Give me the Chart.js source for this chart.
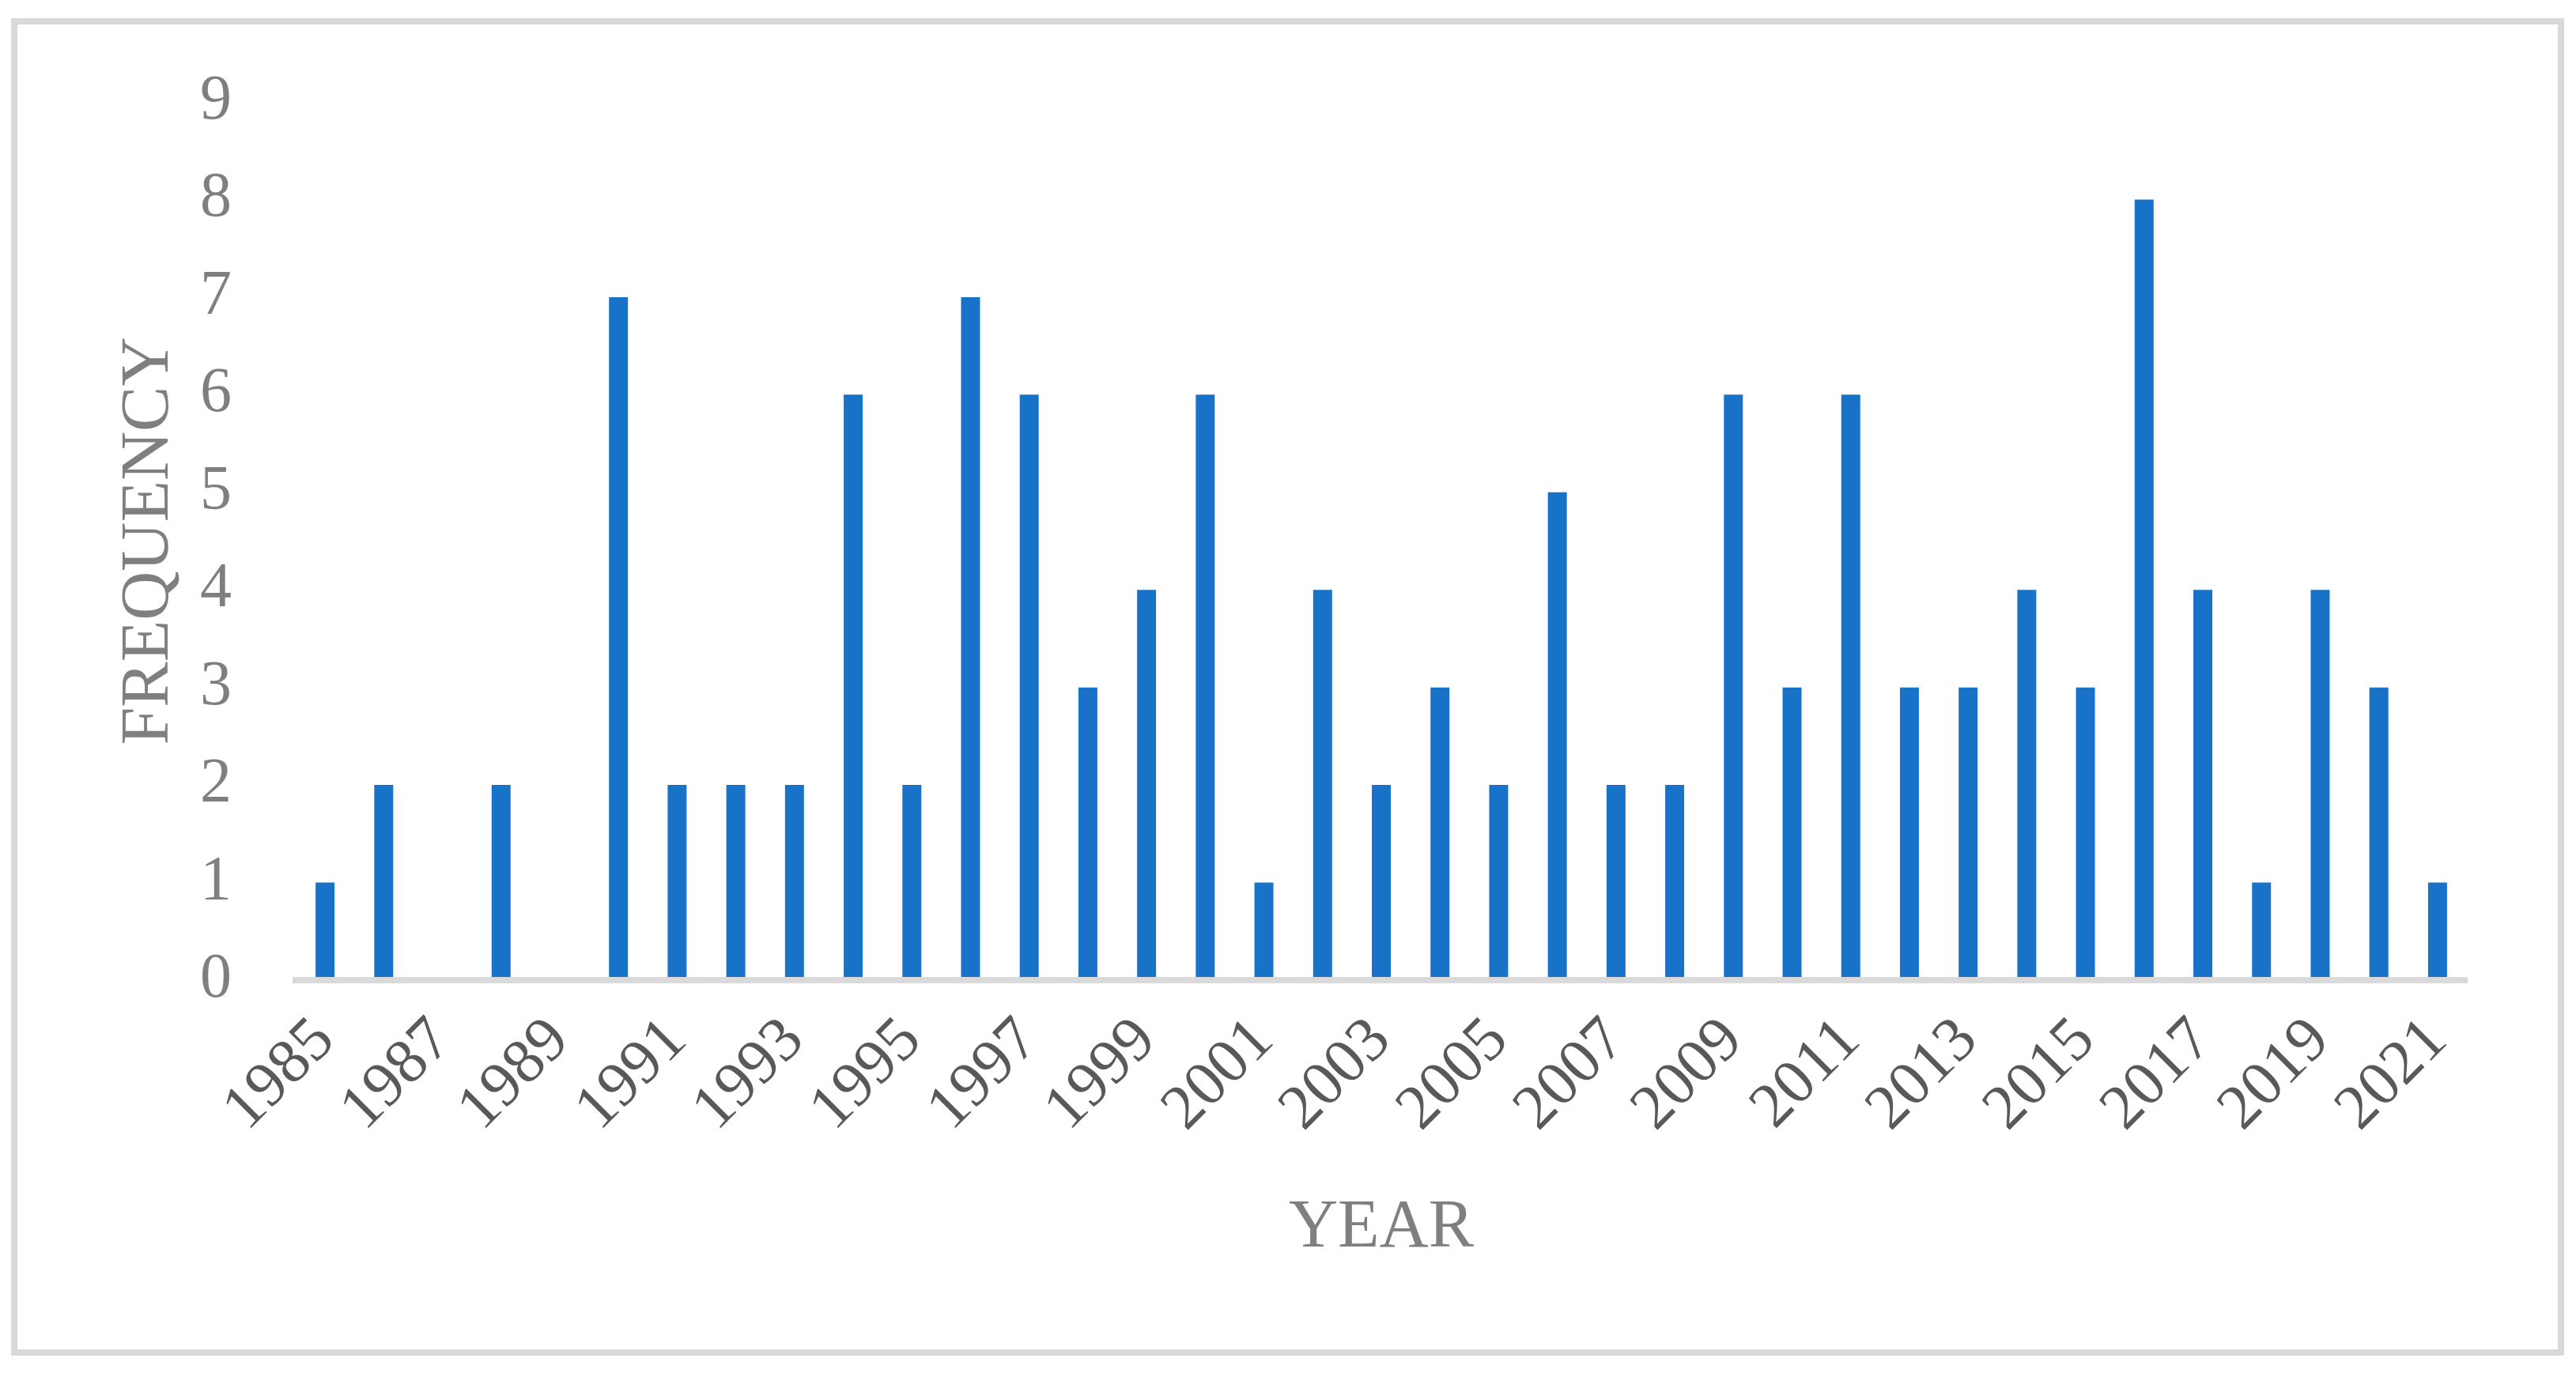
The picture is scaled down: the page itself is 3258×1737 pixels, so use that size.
<!DOCTYPE html>
<html>
<head>
<meta charset="utf-8">
<script src="https://cdn.jsdelivr.net/npm/chart.js@4/dist/chart.umd.min.js"></script>
<style>
  html, body { margin: 0; padding: 0; background: #ffffff; }
  #wrap { position: relative; width: 3258px; height: 1737px; }
</style>
</head>
<body>
<div id="wrap"><canvas id="c" width="3258" height="1737"></canvas></div>
<script>
const years = ["1985","1986","1987","1988","1989","1990","1991","1992","1993","1994","1995","1996","1997","1998","1999","2000","2001","2002","2003","2004","2005","2006","2007","2008","2009","2010","2011","2012","2013","2014","2015","2016","2017","2018","2019","2020","2021"];
const frequency = [1,2,0,2,0,7,2,2,2,6,2,7,6,3,4,6,1,4,2,3,2,5,2,2,6,3,6,3,3,4,3,8,4,1,4,3,1];
const yTicks = [0,1,2,3,4,5,6,7,8,9];
const xTitle = "YEAR";
const yTitle = "FREQUENCY";

const FONT = "'Liberation Serif', 'Times New Roman', serif";

const frame = {
  id: 'frame',
  beforeDraw(chart) {
    const ctx = chart.ctx;
    ctx.save();
    ctx.fillStyle = '#ffffff';
    ctx.fillRect(0, 0, chart.width, chart.height);
    ctx.strokeStyle = '#d9d9d9';
    ctx.lineWidth = 8;
    ctx.strokeRect(18, 27, 3221, 1684);
    ctx.restore();
  }
};

new Chart(document.getElementById('c'), {
  type: 'bar',
  data: {
    labels: years,
    datasets: [{
      data: frequency,
      backgroundColor: '#1873c8',
      borderWidth: 0,
      categoryPercentage: 1,
      barPercentage: 0.323
    }]
  },
  options: {
    responsive: false,
    animation: false,
    devicePixelRatio: 1,
    layout: { padding: { left: 138, right: 138, top: 114, bottom: 131 } },
    plugins: { legend: { display: false }, tooltip: { enabled: false } },
    scales: {
      x: {
        grid: { display: false, drawTicks: false },
        border: { display: true, color: '#d9d9d9', width: 8, z: 1 },
        ticks: {
          autoSkip: false,
          maxRotation: 45,
          minRotation: 45,
          padding: 30,
          color: '#595959',
          font: { family: FONT, size: 80 },
          callback: function (v, i) { return i % 2 === 0 ? years[i] : ''; }
        },
        title: { display: true, text: xTitle, color: '#7f7f7f', font: { family: FONT, size: 86 }, padding: 0 },
        afterFit(scale) { scale.height = 366; }
      },
      y: {
        min: 0,
        max: 9,
        grid: { display: false, drawTicks: false },
        border: { display: false },
        afterBuildTicks(scale) { scale.ticks = yTicks.map(v => ({ value: v })); },
        ticks: {
          padding: 81,
          color: '#7f7f7f',
          font: { family: FONT, size: 80 }
        },
        title: { display: true, text: yTitle, color: '#7f7f7f', font: { family: FONT, size: 86 }, padding: 0 },
        afterFit(scale) { scale.width = 236; }
      }
    }
  },
  plugins: [frame]
});
</script>
</body>
</html>
